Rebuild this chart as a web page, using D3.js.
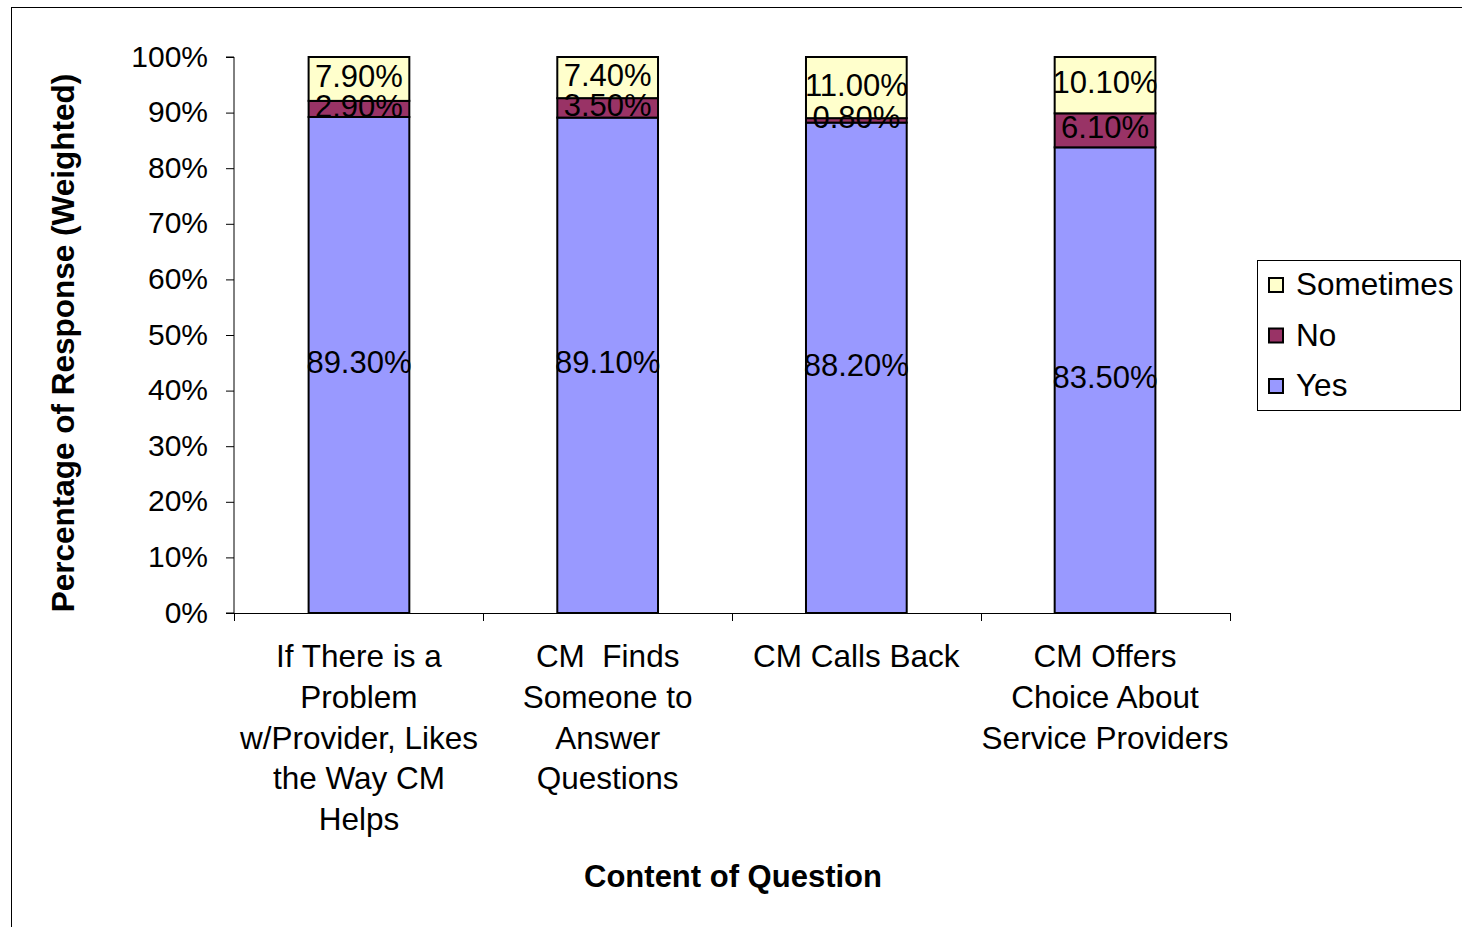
<!DOCTYPE html>
<html><head><meta charset="utf-8">
<script src="https://cdn.jsdelivr.net/npm/d3@7"></script>
<style>body{margin:0;background:#fff}svg{display:block;font-family:"Liberation Sans",Arial,sans-serif}</style>
</head><body><svg id="c" width="1462" height="927"></svg>
<script>
const categories = [
  ["If There is a","Problem","w/Provider, Likes","the Way CM","Helps"],
  ["CM  Finds","Someone to","Answer","Questions"],
  ["CM Calls Back"],
  ["CM Offers","Choice About","Service Providers"]
];
const seriesNames = ["Yes","No","Sometimes"];
const yesValues = [89.3, 89.1, 88.2, 83.5];
const noValues = [2.9, 3.5, 0.8, 6.1];
const sometimesValues = [7.9, 7.4, 11.0, 10.1];
const yTicks = [0,10,20,30,40,50,60,70,80,90,100];
const colors = {Yes:"#9999FF", No:"#993366", Sometimes:"#FFFFCC"};

const svg = d3.select("#c");
svg.append("rect").attr("x",11.5).attr("y",7.5).attr("width",1480).attr("height",940)
  .attr("fill","none").attr("stroke","#000").attr("stroke-width",1);

const x0 = 234, x1 = 1230, yTop = 57, yBot = 613;
const x = d3.scaleBand().domain(d3.range(categories.length)).range([x0,x1]).paddingInner(0.595).paddingOuter(0.3);
const y = d3.scaleLinear().domain([0,100]).range([yBot,yTop]);

const rows = categories.map((c,i)=>({i, Yes:yesValues[i], No:noValues[i], Sometimes:sometimesValues[i]}));
const stack = d3.stack().keys(seriesNames).offset(d3.stackOffsetExpand);
const series = stack(rows);

const yAxis = d3.axisLeft(y).tickValues(yTicks).tickFormat(d=>d+"%").tickSize(8).tickPadding(18);
const ga = svg.append("g").attr("transform",`translate(${x0},0)`).call(yAxis);
ga.select(".domain").attr("d",`M-8,${yTop}H0V${yBot}H-8`).attr("stroke","#000");
ga.selectAll(".tick line").attr("stroke","#000");
ga.selectAll(".tick text").attr("font-size",30).attr("fill","#000").attr("dy","0.3em")
  .attr("font-family","Liberation Sans, Arial, sans-serif");

svg.append("line").attr("x1",x0).attr("x2",x1).attr("y1",yBot+0.5).attr("y2",yBot+0.5).attr("stroke","#000");
const bounds = d3.range(categories.length+1).map(k=> x0 + k*(x1-x0)/categories.length);
svg.selectAll(".xt").data(bounds).join("line").attr("x1",d=>d+0.5).attr("x2",d=>d+0.5)
  .attr("y1",yBot).attr("y2",yBot+8).attr("stroke","#000");

const g = svg.append("g");
series.forEach(s=>{
  const key = s.key;
  g.selectAll(null).data(s).join("rect")
    .attr("x",(d,i)=>x(i)).attr("width",x.bandwidth())
    .attr("y",d=>y(d[1]*100)).attr("height",d=>y(d[0]*100)-y(d[1]*100))
    .attr("fill",colors[key]).attr("stroke","#000").attr("stroke-width",2);
});
series.forEach(s=>{
  const key = s.key;
  g.selectAll(null).data(s).join("text")
    .attr("x",(d,i)=>x(i)+x.bandwidth()/2)
    .attr("y",d=>(y(d[0]*100)+y(d[1]*100))/2 - 2.5)
    .attr("text-anchor","middle").attr("dominant-baseline","central")
    .attr("font-size",31).attr("fill","#000")
    .text((d,i)=>rows[i][key].toFixed(2)+"%");
});

categories.forEach((lines,i)=>{
  const cx = x(i)+x.bandwidth()/2;
  lines.forEach((ln,j)=>{
    svg.append("text").attr("x",cx).attr("y",656+j*40.8).attr("text-anchor","middle")
      .attr("dominant-baseline","central").attr("font-size",31.5).attr("fill","#000")
      .style("white-space","pre").text(ln);
  });
});

svg.append("text").attr("x",733).attr("y",876).attr("text-anchor","middle").attr("dominant-baseline","central")
  .attr("font-size",31).attr("font-weight","bold").text("Content of Question");
svg.append("text").attr("transform","translate(63,343) rotate(-90)").attr("text-anchor","middle")
  .attr("dominant-baseline","central").attr("font-size",31.5).attr("font-weight","bold")
  .text("Percentage of Response (Weighted)");

const lg = svg.append("g");
lg.append("rect").attr("x",1257.5).attr("y",260.5).attr("width",203).attr("height",150)
  .attr("fill","#fff").attr("stroke","#000");
const legendItems = ["Sometimes","No","Yes"];
legendItems.forEach((k,j)=>{
  const cy = 285 + j*50.5;
  lg.append("rect").attr("x",1269).attr("y",cy-7).attr("width",14).attr("height",14)
    .attr("fill",colors[k]).attr("stroke","#000").attr("stroke-width",2);
  lg.append("text").attr("x",1296).attr("y",cy-1).attr("dominant-baseline","central")
    .attr("font-size",31.5).attr("fill","#000").text(k);
});
</script></body></html>
